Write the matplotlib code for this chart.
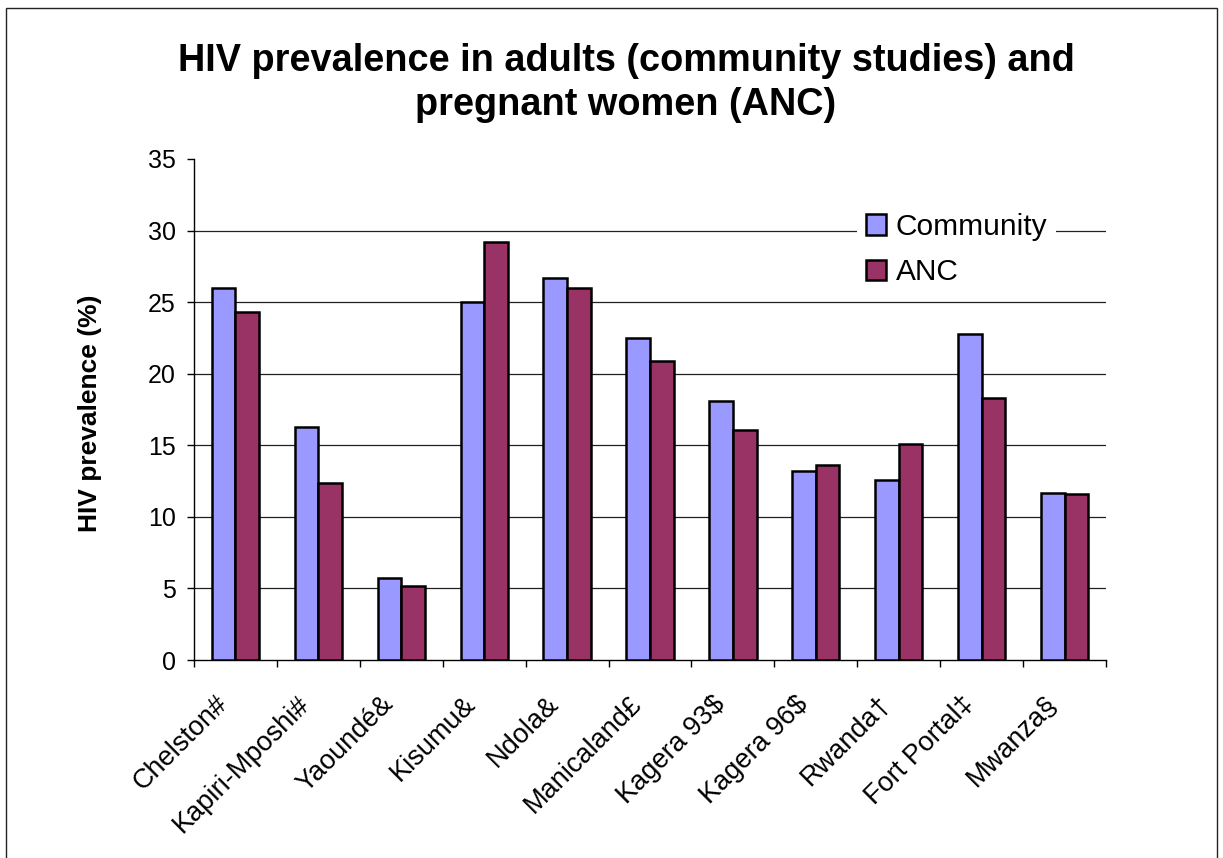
import matplotlib
matplotlib.use("Agg")
import matplotlib.pyplot as plt
import numpy as np
from matplotlib.transforms import ScaledTranslation
from matplotlib.patches import Rectangle

plt.rcParams['font.family'] = ['Liberation Sans', 'DejaVu Sans']

categories = ["Chelston#", "Kapiri-Mposhi#", "Yaoundé&", "Kisumu&", "Ndola&",
              "Manicaland£", "Kagera 93$", "Kagera 96$", "Rwanda†", "Fort Portal‡", "Mwanza§"]
community = [26.0, 16.3, 5.7, 25.0, 26.7, 22.5, 18.1, 13.2, 12.6, 22.8, 11.7]
anc = [24.3, 12.4, 5.2, 29.2, 26.0, 20.9, 16.1, 13.6, 15.1, 18.3, 11.6]
series_names = ["Community", "ANC"]
yticks = [0, 5, 10, 15, 20, 25, 30, 35]
title = "HIV prevalence in adults (community studies) and\npregnant women (ANC)"
ylabel = "HIV prevalence (%)"

W, H = 1223, 858
fig = plt.figure(figsize=(W / 100, H / 100), dpi=100)
fig.patch.set_facecolor('white')

# outer border
fig.patches.append(Rectangle((6 / W, -0.05), (1217 - 6) / W, 1.05 - 8 / H,
                             transform=fig.transFigure, fill=False,
                             edgecolor='#222222', linewidth=1.0))

ax = fig.add_axes([194 / W, (H - 660) / H, (1106 - 194) / W, (660 - 159) / H])

x = np.arange(len(categories))
bw = 0.285
ax.bar(x - bw / 2, community, bw, color='#9999FF', edgecolor='black', linewidth=1.8,
       label=series_names[0], zorder=3)
ax.bar(x + bw / 2, anc, bw, color='#993366', edgecolor='black', linewidth=1.8,
       label=series_names[1], zorder=3)

ax.set_xlim(-0.5, len(categories) - 0.5)
ax.set_ylim(0, 35)
ax.set_yticks(yticks)
ax.set_yticklabels([str(v) for v in yticks], fontsize=18)
ax.tick_params(axis='y', direction='out', length=5, width=1, pad=8, colors='black')

# grid lines (not at the top)
ax.hlines(yticks[1:-1], -0.5, len(categories) - 0.5, colors='#202020', linewidth=0.9, zorder=1)

# x ticks: marks at boundaries, labels at centres
ax.set_xticks(np.arange(-0.5, len(categories), 1.0))
ax.set_xticklabels([])
ax.tick_params(axis='x', which='major', direction='out', length=5, width=1)
ax.set_xticks(x, minor=True)
ax.set_xticklabels(categories, minor=True, fontsize=19.5, rotation=45,
                   ha='right', va='center', rotation_mode='anchor')
ax.tick_params(axis='x', which='minor', length=0, pad=29)
off = ScaledTranslation(-12 / 100, 0, fig.dpi_scale_trans)
for lab in ax.get_xticklabels(minor=True):
    lab.set_transform(lab.get_transform() + off)

for s in ['top', 'right']:
    ax.spines[s].set_visible(False)
ax.spines['left'].set_linewidth(1.0)
ax.spines['bottom'].set_linewidth(1.0)

ax.set_ylabel(ylabel, fontsize=19, fontweight='bold', va='center')
ax.yaxis.set_label_coords((90 - 194) / 912, (660 - 413) / 501)

fig.text(626 / W, (H - 43) / H, title, ha='center', va='top', fontsize=27.3,
         fontweight='bold', linespacing=1.28)

leg = ax.legend(loc='upper left', bbox_to_anchor=((857 - 194) / 912, (660 - 204) / 501),
                fontsize=21.5, frameon=True, fancybox=False, framealpha=1,
                facecolor='white', edgecolor='none', borderpad=0.3, borderaxespad=0,
                handlelength=0.67, handleheight=0.67, handletextpad=0.33,
                labelspacing=0.58)
leg.set_zorder(5)

fig.savefig('out.png', dpi=100)
